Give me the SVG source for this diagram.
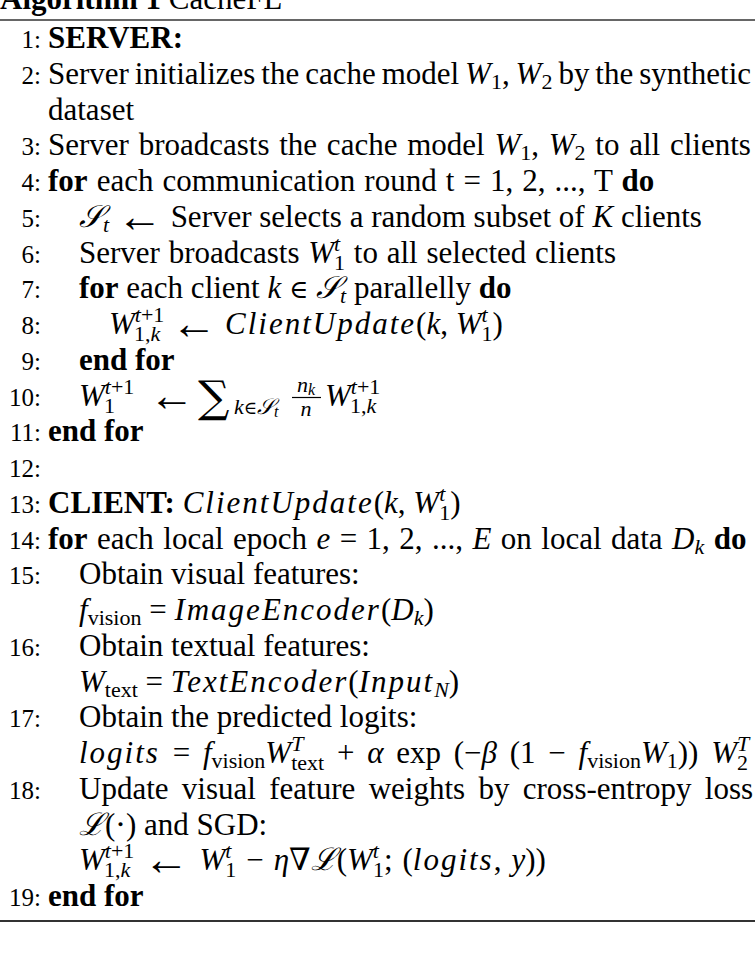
<svg xmlns="http://www.w3.org/2000/svg" width="755" height="953" viewBox="0 0 755 953">
<style>
text{font-family:"Liberation Serif","DejaVu Serif",serif;font-size:31px;fill:#000}
.n{font-size:25px;text-anchor:end}
.b{font-weight:bold}
.m{font-style:italic}
.w{font-style:italic;letter-spacing:2px}
.s{font-size:22px}
.ss{font-size:16px}
.a{font-family:"Liberation Serif",serif;font-size:46px}
.e{font-family:"DejaVu Serif",serif;font-size:26px}
.r{stroke:#333;fill:none}
.c{text-anchor:middle}
</style>
<rect width="755" height="953" fill="#fff"/>
<g id="caption"><text x="0" y="9"><tspan class="b">Algorithm 1</tspan> CacheFL</text><line class="r" x1="0" y1="20" x2="755" y2="20" stroke-width="1.6"/></g>
<g id="line-1"><text class="n" x="41" y="48">1:</text><text class="b" x="48" y="48">SERVER:</text></g>
<g id="line-2"><text class="n" x="41" y="84">2:</text><text x="48" y="84" word-spacing="-1.8">Server initializes the cache model <tspan class="m">W</tspan><tspan class="s" dy="5">1</tspan><tspan dy="-5">, </tspan><tspan class="m">W</tspan><tspan class="s" dy="5">2</tspan><tspan dy="-5"> by the synthetic</tspan></text><text x="48" y="119.5">dataset</text></g>
<g id="line-3"><text class="n" x="41" y="155">3:</text><text x="48" y="155" word-spacing="2">Server broadcasts the cache model <tspan class="m">W</tspan><tspan class="s" dy="5">1</tspan><tspan dy="-5">, </tspan><tspan class="m">W</tspan><tspan class="s" dy="5">2</tspan><tspan dy="-5"> to all clients</tspan></text></g>
<g id="line-4"><text class="n" x="41" y="191">4:</text><text x="48" y="191" word-spacing="1.3"><tspan class="b">for</tspan> each communication round t = 1, 2, ..., T <tspan class="b">do</tspan></text></g>
<g id="line-5"><text class="n" x="41" y="226.75">5:</text><text x="79" y="226.75"><tspan class="m">𝒮</tspan><tspan class="s m" dy="5">t</tspan><tspan dy="-5"> </tspan><tspan class="a" dy="5">←</tspan><tspan dy="-5"> Server selects a random subset of </tspan><tspan class="m">K</tspan> clients</text></g>
<g id="line-6"><text class="n" x="41" y="262.5">6:</text><text x="79" y="262.5" word-spacing="1">Server broadcasts <tspan class="m">W</tspan><tspan class="s m" dy="-12">t</tspan><tspan class="s" dx="-6.1" dy="19">1</tspan><tspan dy="-7"> to all selected clients</tspan></text></g>
<g id="line-7"><text class="n" x="41" y="298.25">7:</text><text x="79" y="298.25"><tspan class="b">for</tspan> each client <tspan class="m">k</tspan> <tspan class="e">∈</tspan> <tspan class="m">𝒮</tspan><tspan class="s m" dy="5">t</tspan><tspan dy="-5"> parallelly </tspan><tspan class="b">do</tspan></text></g>
<g id="line-8"><text class="n" x="41" y="334">8:</text><text x="109" y="334"><tspan class="m">W</tspan><tspan class="s m" dy="-12">t</tspan><tspan class="s">+1</tspan><tspan class="s" dx="-29.5" dy="19">1,<tspan class="m">k</tspan></tspan><tspan dx="3.2" dy="-7"> </tspan><tspan class="a" dy="5">←</tspan><tspan dy="-5"> </tspan><tspan class="w">ClientUpdate</tspan>(<tspan class="m">k</tspan>, <tspan class="m">W</tspan><tspan class="s m" dy="-12">t</tspan><tspan class="s" dx="-6.1" dy="19">1</tspan><tspan dy="-7">)</tspan></text></g>
<g id="line-9"><text class="n" x="41" y="369.75">9:</text><text class="b" x="79" y="369.75">end for</text></g>
<g id="line-10"><text class="n" x="41" y="405.5">10:</text>
<text x="79" y="405.5"><tspan class="m">W</tspan><tspan class="s m" dy="-12">t</tspan><tspan class="s">+1</tspan><tspan class="s" dx="-29.5" dy="19">1</tspan></text>
<text class="a" x="149" y="410.5">←</text>
<text x="198" y="412" style="font-family:'DejaVu Serif',serif;font-size:44px">∑</text>
<text class="s" x="234" y="414"><tspan class="m">k</tspan><tspan style="font-family:'DejaVu Serif',serif;font-size:18px">∈</tspan><tspan class="m">𝒮</tspan><tspan class="ss m" dy="3">t</tspan></text>
<text class="s c" x="306" y="392"><tspan class="m">n</tspan><tspan class="ss m" dy="3">k</tspan></text>
<line x1="292" y1="397.5" x2="321" y2="397.5" stroke="#000" stroke-width="1.2"/>
<text class="s m c" x="306" y="416">n</text>
<text x="325" y="405.5"><tspan class="m">W</tspan><tspan class="s m" dy="-12">t</tspan><tspan class="s">+1</tspan><tspan class="s" dx="-29.5" dy="19">1,<tspan class="m">k</tspan></tspan></text></g>
<g id="line-11"><text class="n" x="41" y="441.25">11:</text><text class="b" x="48" y="441.25">end for</text></g>
<g id="line-12"><text class="n" x="41" y="477">12:</text></g>
<g id="line-13"><text class="n" x="41" y="512.75">13:</text><text x="48" y="512.75"><tspan class="b">CLIENT:</tspan> <tspan class="w">ClientUpdate</tspan>(<tspan class="m">k</tspan>, <tspan class="m">W</tspan><tspan class="s m" dy="-12">t</tspan><tspan class="s" dx="-6.1" dy="19">1</tspan><tspan dy="-7">)</tspan></text></g>
<g id="line-14"><text class="n" x="41" y="548.5">14:</text><text x="48" y="548.5" word-spacing="1.7"><tspan class="b">for</tspan> each local epoch <tspan class="m">e</tspan> = 1, 2, ..., <tspan class="m">E</tspan> on local data <tspan class="m">D</tspan><tspan class="s m" dy="5">k</tspan><tspan dy="-5"> </tspan><tspan class="b">do</tspan></text></g>
<g id="line-15"><text class="n" x="41" y="584.25">15:</text><text x="79" y="584.25">Obtain visual features:</text><text x="79" y="620"><tspan class="m">f</tspan><tspan class="s" dy="5">vision</tspan><tspan dy="-5"> = </tspan><tspan class="w">ImageEncoder</tspan>(<tspan class="m">D</tspan><tspan class="s m" dy="5">k</tspan><tspan dy="-5">)</tspan></text></g>
<g id="line-16"><text class="n" x="41" y="655.75">16:</text><text x="79" y="655.75">Obtain textual features:</text><text x="79" y="691.5"><tspan class="m">W</tspan><tspan class="s" dy="5">text</tspan><tspan dy="-5"> = </tspan><tspan class="w">TextEncoder</tspan>(<tspan class="w">Input</tspan><tspan class="s m" dy="5">N</tspan><tspan dy="-5">)</tspan></text></g>
<g id="line-17"><text class="n" x="41" y="727.25">17:</text><text x="79" y="727.25">Obtain the predicted logits:</text><text x="79" y="763" word-spacing="5"><tspan class="w">logits</tspan> = <tspan class="m">f</tspan><tspan class="s" dy="5">vision</tspan><tspan class="m" dy="-5">W</tspan><tspan class="s m" dy="-12">T</tspan><tspan class="s" dx="-12.2" dy="19">text</tspan><tspan dy="-7"> + </tspan><tspan class="m">α</tspan> exp (−<tspan class="m">β</tspan> (1 − <tspan class="m">f</tspan><tspan class="s" dy="5">vision</tspan><tspan class="m" dy="-5">W</tspan><tspan class="s" dy="5">1</tspan><tspan dy="-5">)) </tspan><tspan class="m">W</tspan><tspan class="s m" dy="-12">T</tspan><tspan class="s" dx="-12.2" dy="19">2</tspan></text></g>
<g id="line-18"><text class="n" x="41" y="798.75">18:</text><text x="79" y="798.75" word-spacing="5.6">Update visual feature weights by cross-entropy loss</text><text x="79" y="834.5"><tspan class="m">ℒ</tspan>(⋅) and SGD:</text><text x="79" y="870.25" word-spacing="2.2"><tspan class="m">W</tspan><tspan class="s m" dy="-12">t</tspan><tspan class="s">+1</tspan><tspan class="s" dx="-29.5" dy="19">1,<tspan class="m">k</tspan></tspan><tspan dx="3.2" dy="-7"> </tspan><tspan class="a" dy="5">←</tspan><tspan dy="-5"> </tspan><tspan class="m">W</tspan><tspan class="s m" dy="-12">t</tspan><tspan class="s" dx="-6.1" dy="19">1</tspan><tspan dy="-7"> − </tspan><tspan class="m">η</tspan>∇<tspan class="m">ℒ</tspan>(<tspan class="m">W</tspan><tspan class="s m" dy="-12">t</tspan><tspan class="s" dx="-6.1" dy="19">1</tspan><tspan dy="-7">; (</tspan><tspan class="w">logits</tspan>, <tspan class="m">y</tspan>))</text></g>
<g id="line-19"><text class="n" x="41" y="906">19:</text><text class="b" x="48" y="906">end for</text><line class="r" x1="0" y1="921" x2="755" y2="921" stroke-width="2.2"/></g>
</svg>
